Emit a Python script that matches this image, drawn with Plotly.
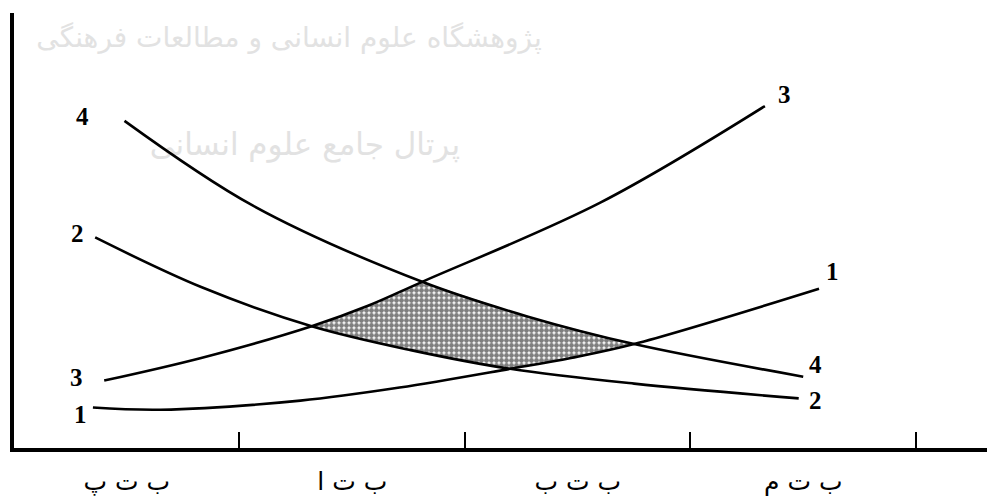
import plotly.graph_objects as go

# tick labels (centred between the tick marks) and tick mark positions
categories = ["ب ت پ", "ب ت ا", "ب ت ب", "ب ت م"]
label_pos = [0.5, 1.5, 2.5, 3.5]
tick_pos = [1, 2, 3, 4]

# curves (x in tick units, y in arbitrary units 0-10)
c1_x = [0.35, 0.65, 1.27, 1.71, 2.20, 2.47, 2.75, 3.57]
c1_y = [0.93, 0.88, 1.09, 1.39, 1.82, 2.07, 2.39, 3.66]

c2_x = [0.36, 0.83, 1.32, 1.76, 2.20, 2.75, 3.48]
c2_y = [4.84, 3.70, 2.80, 2.25, 1.82, 1.48, 1.14]

c3_x = [0.40, 0.83, 1.32, 1.57, 1.81, 2.60, 3.33]
c3_y = [1.55, 2.07, 2.80, 3.27, 3.82, 5.64, 7.86]

c4_x = [0.49, 1.06, 1.81, 2.28, 2.75, 3.50]
c4_y = [7.52, 5.57, 3.82, 3.02, 2.39, 1.64]

# shaded zone: upper edge (curve 3 then 4), lower edge (curve 1 then 2)
shade_top_x = [1.32, 1.57, 1.81, 2.28, 2.75]
shade_top_y = [2.80, 3.27, 3.82, 3.02, 2.39]
shade_bot_x = [2.75, 2.47, 2.20, 1.76, 1.32]
shade_bot_y = [2.39, 2.07, 1.82, 2.25, 2.80]

# watermark of the scanned source
wm_text = ["پژوهشگاه علوم انسانی و مطالعات فرهنگی", "پرتال جامع علوم انسانی"]
wm_x = [1.22, 1.29]
wm_y = [9.38, 6.92]

curves = [
    ("1", c1_x, c1_y, (-12, -7), (13, 17)),
    ("2", c2_x, c2_y, (-18, 4), (17, -2)),
    ("3", c3_x, c3_y, (-28, 3), (20, 12)),
    ("4", c4_x, c4_y, (-42, 4), (12, 12)),
]

fig = go.Figure()

# watermark goes first so that the curves sit on top of it
fig.add_trace(go.Scatter(
    x=wm_x, y=wm_y, mode="text", text=wm_text,
    textfont=dict(family="DejaVu Sans", size=[28, 31], color="#e2e2e2"),
    cliponaxis=False, hoverinfo="skip",
))

fig.add_trace(go.Scatter(
    x=shade_top_x + shade_bot_x,
    y=shade_top_y + shade_bot_y,
    fill="toself",
    mode="lines",
    line=dict(width=0),
    fillcolor="white",
    fillpattern=dict(shape=".", fgcolor="black", bgcolor="white",
                     size=5, solidity=0.75),
    hoverinfo="skip",
))

annotations = []
for name, xs, ys, left_off, right_off in curves:
    fig.add_trace(go.Scatter(
        x=xs, y=ys, mode="lines", name=name,
        line=dict(color="black", width=2.6, shape="spline", smoothing=1.0),
    ))
    for px, py, (dx, dy) in [(xs[0], ys[0], left_off), (xs[-1], ys[-1], right_off)]:
        annotations.append(dict(
            x=px, y=py, text="<b>%s</b>" % name, showarrow=False,
            xshift=dx, yshift=dy,
            font=dict(family="Liberation Serif", size=25, color="black"),
        ))

fig.update_layout(
    width=979, height=488,
    margin=dict(l=6, r=0, t=5, b=43),
    plot_bgcolor="white", paper_bgcolor="white",
    showlegend=False,
    annotations=annotations,
    xaxis=dict(
        range=[0, 4.315],
        showgrid=False, zeroline=False,
        showline=True, linecolor="black", linewidth=4,
        tickmode="array", tickvals=label_pos, ticktext=categories,
        ticks="", ticklabelstandoff=8,
        tickfont=dict(family="DejaVu Sans", size=25, color="black"),
        minor=dict(tickmode="array", tickvals=tick_pos, ticks="inside",
                   ticklen=16, tickwidth=2, tickcolor="black", showgrid=False),
    ),
    yaxis=dict(
        range=[0, 10],
        showgrid=False, zeroline=False,
        showline=True, linecolor="black", linewidth=3.5,
        showticklabels=False, ticks="",
    ),
)

fig.write_html("out.html")
